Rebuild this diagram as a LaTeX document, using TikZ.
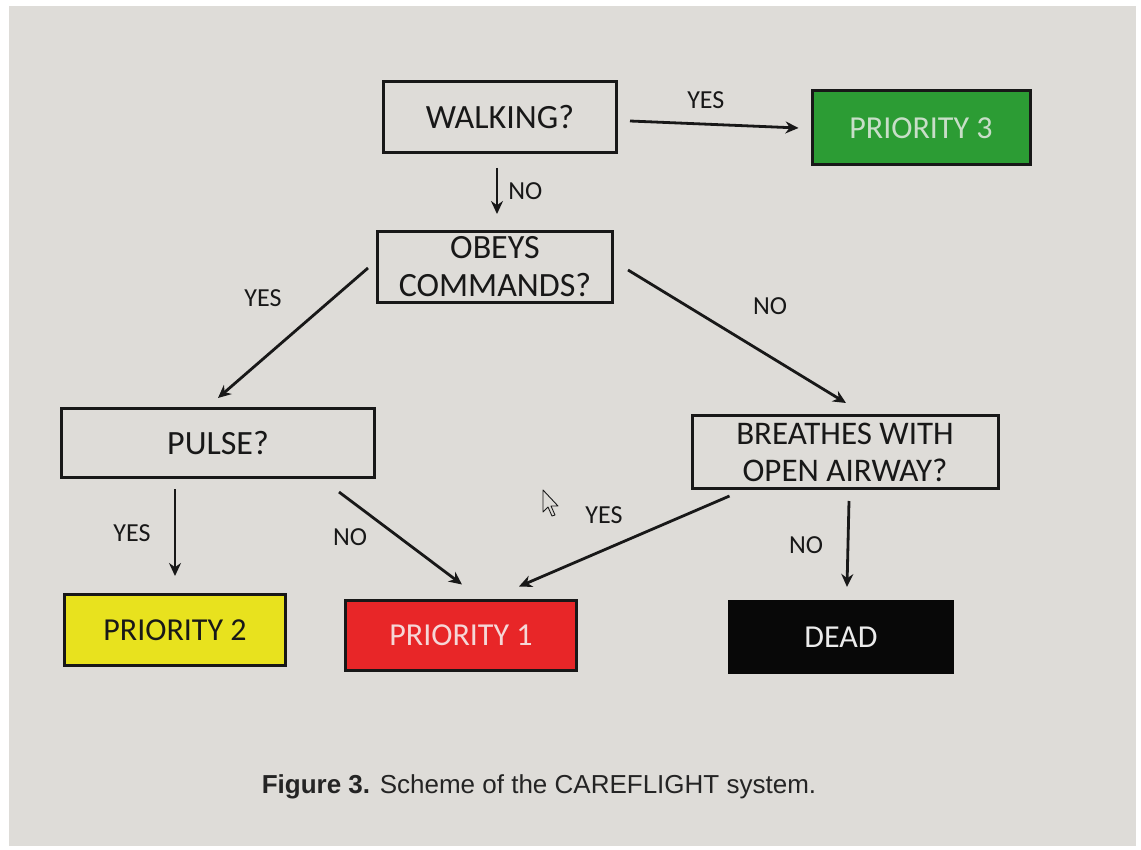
\documentclass[tikz,border=0pt]{standalone}
\usepackage{fontspec}
\setmainfont{Carlito}
\newfontfamily\captionfont{Liberation Sans}
\usetikzlibrary{arrows.meta}
\definecolor{paper}{RGB}{222,220,216}
\definecolor{ink}{RGB}{24,24,24}
\definecolor{pgreen}{RGB}{44,156,52}
\definecolor{pyellow}{RGB}{232,226,30}
\definecolor{pred}{RGB}{232,38,40}
\definecolor{pblack}{RGB}{8,8,8}
\definecolor{greentext}{RGB}{200,222,200}
\definecolor{redtext}{RGB}{245,215,215}
\definecolor{blacktext}{RGB}{235,235,235}
\definecolor{captext}{RGB}{36,36,36}
\tikzset{
  box/.style={draw=ink, line width=3pt, inner sep=0pt, align=center,
    font=\fontsize{34}{38}\selectfont, text=ink},
  outcome/.style={box, minimum width=222pt, minimum height=71pt,
    font=\fontsize{32}{36}\selectfont},
  link/.style={draw=ink, line width=2.8pt, -{Stealth[length=13pt,width=12pt]}},
  lbl/.style={font=\fontsize{26}{28}\selectfont, text=ink, inner sep=0pt}
}
\begin{document}
\begin{tikzpicture}[x=1pt,y=-1pt]
  % photo frame and screen background
  \fill[white] (0,0) rectangle (1141,850);
  \fill[paper] (9,6) rectangle (1136,846);
  \useasboundingbox (0,0) rectangle (1141,850);

  % decision boxes
  \node[box, minimum width=233pt, minimum height=71pt] (walk) at (500,117) {WALKING?};
  \node[box, minimum width=235pt, minimum height=71pt] (obey) at (495,267) {OBEYS\\COMMANDS?};
  \node[box, minimum width=313pt, minimum height=69pt] (pulse) at (218,443) {PULSE?};
  \node[box, minimum width=306pt, minimum height=73pt, font=\fontsize{33}{37}\selectfont] (breathe) at (845,452) {BREATHES WITH\\OPEN AIRWAY?};

  % outcome boxes
  \node[outcome, fill=pgreen, minimum width=218pt, minimum height=74pt, text=greentext] (p3) at (921,128) {PRIORITY 3};
  \node[outcome, fill=pyellow, minimum width=221pt] (p2) at (175,630) {PRIORITY 2};
  \node[outcome, fill=pred, minimum width=231pt, minimum height=70pt, text=redtext] (p1) at (461,635) {PRIORITY 1};
  \node[outcome, fill=pblack, draw=pblack, minimum width=223pt, text=blacktext] (dead) at (841,637) {DEAD};

  % connectors
  \draw[link] ([xshift=12pt,yshift=-4pt]walk.east) -- ([xshift=-12pt]p3.west)
    node[lbl, pos=0.45, above=14pt] (l1) {YES};
  \draw[link] ([yshift=-14pt,xshift=-3pt]walk.south) -- ([yshift=16pt,xshift=2pt]obey.north)
    node[lbl, midway, right=10pt] (l2) {NO};
  \draw[link] ([xshift=-8pt,yshift=-1pt]obey.west) -- ([yshift=9pt]pulse.north);
  \node[lbl] (l3) at (263,298) {YES};
  \draw[link] ([xshift=14pt,yshift=-3pt]obey.east) -- ([xshift=1pt,yshift=11pt]breathe.north);
  \node[lbl] (l4) at (770,306) {NO};
  \draw[link] ([yshift=-10pt]p2.north |- pulse.south) -- ([yshift=17pt]p2.north);
  \node[lbl] (l5) at (132,533) {YES};
  \draw[link] ([xshift=-37pt,yshift=-13pt]pulse.south east) -- ([xshift=1pt,yshift=14pt]p1.north);
  \node[lbl] (l6) at (350,537) {NO};
  \draw[link] ([xshift=39pt,yshift=-6pt]breathe.south west) -- ([xshift=58pt,yshift=12pt]p1.north);
  \node[lbl] (l7) at (604,515) {YES};
  \draw[link] ([xshift=4pt,yshift=-11pt]breathe.south) -- ([xshift=6pt,yshift=13pt]dead.north);
  \node[lbl] (l8) at (806,545) {NO};

  % mouse pointer on the screen
  \draw[ink, line width=0.9pt, fill=paper, line join=round]
    (543,490) -- (543,512) -- (548,507) -- (552,516) -- (555,515) -- (551,506) -- (558,506) -- cycle;

  % caption
  \node[font=\captionfont\fontsize{26}{28}\selectfont, text=captext, inner sep=0pt] (cap) at (539,787)
    {\textbf{Figure 3.} Scheme of the CAREFLIGHT system.};
\end{tikzpicture}
\end{document}
